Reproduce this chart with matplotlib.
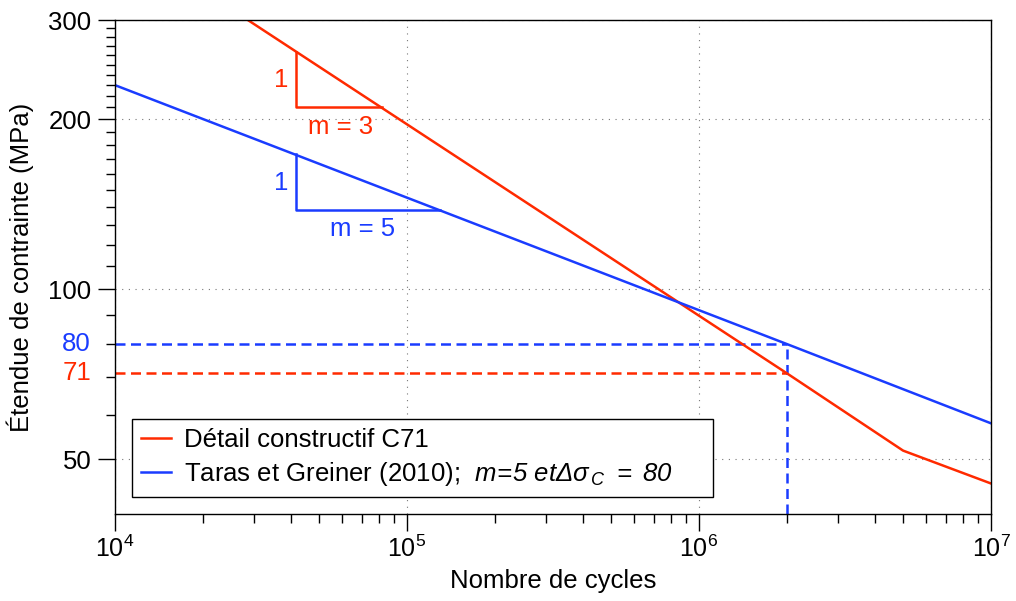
import matplotlib
matplotlib.use('Agg')
import matplotlib.pyplot as plt
from matplotlib.ticker import NullFormatter
import matplotlib.transforms as mtransforms

plt.rcParams['font.family'] = ['Liberation Sans', 'DejaVu Sans']
plt.rcParams['mathtext.fontset'] = 'custom'
plt.rcParams['mathtext.rm'] = 'Liberation Sans'
plt.rcParams['mathtext.it'] = 'Liberation Sans:italic'
plt.rcParams['mathtext.sf'] = 'Liberation Sans:italic'

# --- data ---
# Detail category C71 (m=3 down to 5e6 cycles, then m=5)
red_n = [2.85e4, 2e6, 5e6, 1e7]
red_s = [300, 71, 51.8, 45.3]
# Taras & Greiner (2010): m=5, delta sigma_C = 80
blue_n = [1e4, 2e6, 1e7]
blue_s = [230, 80, 57.9]

n_c = 2e6          # reference number of cycles
s_c_red = 71
s_c_blue = 80

# slope triangles
red_tri_n = [4.17e4, 4.17e4, 8.2e4]
red_tri_s = [263, 210, 210]
blue_tri_n = [4.17e4, 4.17e4, 1.30e5]
blue_tri_s = [173.5, 138, 138]

y_major = [50, 100, 200, 300]
y_minor = [60, 70, 80, 90] + list(range(110, 200, 10)) + list(range(210, 300, 10))

RED = '#ff2a00'
BLUE = '#1a3cff'
FS = 18.5
LW = 1.8


def main():
    fig = plt.figure(figsize=(10.16, 6.01), dpi=100)
    ax = fig.add_axes([115 / 1016, 1 - 514 / 601, 876 / 1016, 494 / 601])
    ax.set_xscale('log')
    ax.set_yscale('log')

    dash = (4, 2.2)
    # dashed reference lines at 2e6 cycles
    ax.plot([1e4, n_c], [s_c_blue, s_c_blue], color=BLUE, lw=LW, dashes=dash)
    ax.plot([1e4, n_c], [s_c_red, s_c_red], color=RED, lw=LW, dashes=dash)
    ax.plot([n_c, n_c], [40, s_c_blue], color=BLUE, lw=LW, dashes=dash)

    l1, = ax.plot(red_n, red_s, color=RED, lw=LW, label='Détail constructif C71')
    l2, = ax.plot(blue_n, blue_s, color=BLUE, lw=LW,
                  label='Taras et Greiner (2010);  '
                        r'$\mathsf{m\!=\!5\ et\Delta\sigma_{\,C}\ =\ 80}$')

    # slope triangles
    ax.plot(red_tri_n, red_tri_s, color=RED, lw=LW)
    ax.plot(blue_tri_n, blue_tri_s, color=BLUE, lw=LW)
    ax.text(3.70e4, 234.8, '1', color=RED, fontsize=FS, ha='center', va='center')
    ax.text(5.90e4, 193.7, 'm = 3', color=RED, fontsize=FS, ha='center', va='center')
    ax.text(3.70e4, 154.3, '1', color=BLUE, fontsize=FS, ha='center', va='center')
    ax.text(7.06e4, 127.8, 'm = 5', color=BLUE, fontsize=FS, ha='center', va='center')

    ax.set_xlim(1e4, 1e7)
    ax.set_ylim(40, 300)

    ax.set_yticks(y_major, labels=[str(v) for v in y_major])
    ax.set_yticks(y_minor, minor=True)
    ax.yaxis.set_minor_formatter(NullFormatter())
    ax.set_xticks([1e4, 1e5, 1e6, 1e7])
    ax.xaxis.set_minor_formatter(NullFormatter())

    ax.tick_params(which='major', direction='out', length=12.5, width=1,
                   top=False, right=False)
    ax.tick_params(which='minor', direction='out', length=6.5, width=1,
                   top=False, right=False)
    ax.tick_params(axis='y', which='major', pad=4.5, labelsize=FS)
    ax.tick_params(axis='x', which='major', pad=3, labelsize=18)

    # coloured values on the y axis
    trans = mtransforms.blended_transform_factory(ax.transAxes, ax.transData)
    ax.text(-0.0274, s_c_blue, '80', color=BLUE, fontsize=FS, ha='right',
            va='center', transform=trans)
    ax.text(-0.0274, s_c_red, '71', color=RED, fontsize=FS, ha='right',
            va='center', transform=trans)

    ax.grid(True, which='major', linestyle=(0, (1, 5)), color='#777777', lw=0.8)

    for sp in ax.spines.values():
        sp.set_linewidth(1)
        sp.set_color('black')

    ax.set_xlabel('Nombre de cycles', fontsize=FS)
    ax.set_ylabel('Étendue de contrainte (MPa)', fontsize=FS)
    ax.xaxis.set_label_coords(0.5, -0.111)
    ax.yaxis.set_label_coords(-0.093, 0.5)

    leg = ax.legend(handles=[l1, l2], loc='lower left',
                    bbox_to_anchor=(0.0194, 0.0344, 0.663, 0), mode='expand',
                    borderaxespad=0, fontsize=FS, handlelength=1.17,
                    handletextpad=0.5, labelspacing=0.3, borderpad=0.35,
                    fancybox=False, framealpha=1, edgecolor='black')
    leg.get_frame().set_linewidth(1)

    fig.savefig('out.png', dpi=100)
    plt.close(fig)


if __name__ == '__main__':
    main()
